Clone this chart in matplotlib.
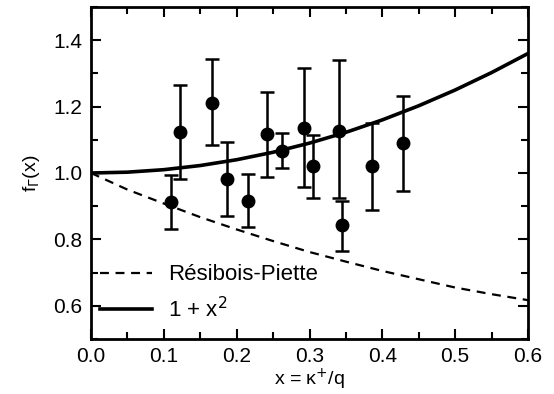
import numpy as np
import matplotlib.pyplot as plt
from matplotlib.ticker import MultipleLocator

plt.rcParams['font.family'] = ['Liberation Sans', 'DejaVu Sans']

# measured points
x_data = [0.110, 0.122, 0.166, 0.187, 0.216, 0.242, 0.262, 0.293, 0.305, 0.341, 0.345, 0.386, 0.429]
y_data = [0.912, 1.124, 1.212, 0.982, 0.915, 1.118, 1.067, 1.136, 1.021, 1.127, 0.842, 1.021, 1.091]
y_top = [0.995, 1.264, 1.342, 1.094, 0.997, 1.245, 1.121, 1.315, 1.115, 1.340, 0.915, 1.152, 1.233]
y_bot = [0.830, 0.982, 1.085, 0.870, 0.836, 0.988, 1.015, 0.958, 0.924, 0.924, 0.764, 0.888, 0.945]

# theory curves
x_curve = [0.0, 0.05, 0.1, 0.15, 0.2, 0.25, 0.3, 0.35, 0.4, 0.45, 0.5, 0.55, 0.6]
y_rp = [1.0, 0.950, 0.908, 0.867, 0.830, 0.795, 0.762, 0.733, 0.705, 0.680, 0.655, 0.635, 0.617]
y_sq = [1.0, 1.0025, 1.01, 1.0225, 1.04, 1.0625, 1.09, 1.1225, 1.16, 1.2025, 1.25, 1.3025, 1.36]

x_ticks = [0.0, 0.1, 0.2, 0.3, 0.4, 0.5, 0.6]
y_ticks = [0.6, 0.8, 1.0, 1.2, 1.4]

fig = plt.figure(figsize=(5.54, 3.94), dpi=100)
ax = fig.add_axes([91 / 554, 1 - 339 / 394, 437 / 554, 332 / 394])

ax.plot(x_curve, y_rp, 'k--', lw=1.6, dashes=(4, 3), label='Résibois-Piette')
ax.plot(x_curve, y_sq, 'k-', lw=2.6, label='1 + x$^2$')

yerr = [np.array(y_data) - np.array(y_bot), np.array(y_top) - np.array(y_data)]
ax.errorbar(x_data, y_data, yerr=yerr, fmt='o', color='k', ms=9, elinewidth=1.8,
            capsize=5, capthick=1.8)

ax.set_xlim(0, 0.6)
ax.set_ylim(0.5, 1.5)
ax.set_xticks(x_ticks)
ax.set_yticks(y_ticks)
ax.xaxis.set_minor_locator(MultipleLocator(0.05))
ax.yaxis.set_minor_locator(MultipleLocator(0.1))
ax.tick_params(which='both', direction='in', top=True, right=True, labelsize=15, width=1.5)
ax.tick_params(which='major', length=7, pad=6)
ax.tick_params(which='minor', length=5)
for s in ax.spines.values():
    s.set_linewidth(2)

ax.set_xlabel('x = κ$^{+}$/q', fontsize=14, labelpad=0)
ax.set_ylabel('f$_\\Gamma$(x)', fontsize=14, labelpad=8)

ax.legend(loc='lower left', bbox_to_anchor=(0.0, 0.025), frameon=False, fontsize=16,
          handlelength=2.35, handletextpad=0.7, borderaxespad=0.1,
          labelspacing=0.5, borderpad=0.3)

fig.savefig('out.png', dpi=100)
